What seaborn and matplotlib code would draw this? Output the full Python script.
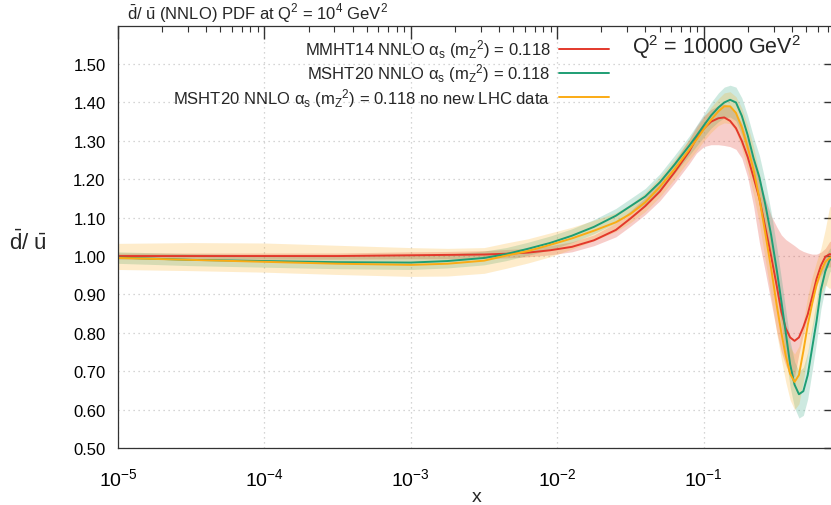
import numpy as np
import pandas as pd
import matplotlib
matplotlib.use("Agg")
import matplotlib.pyplot as plt
import seaborn as sns
from matplotlib.ticker import LogLocator, FixedLocator, FormatStrFormatter, NullFormatter

# ---------------- data ----------------
log10_x = [-5.0, -4.5, -4.0, -3.5, -3.0, -2.75, -2.5, -2.35, -2.2, -2.05,
           -1.9, -1.75, -1.6, -1.5, -1.4, -1.3, -1.2, -1.1, -1.05, -1.0,
           -0.95, -0.9, -0.86, -0.82, -0.78, -0.74, -0.70, -0.66, -0.62, -0.58,
           -0.54, -0.50, -0.47, -0.44, -0.41, -0.38, -0.35, -0.32, -0.29, -0.26,
           -0.23, -0.20, -0.17, -0.14, -0.11, -0.08]

mmht14_c = [1.000, 1.000, 1.000, 1.000, 1.002, 1.003, 1.004, 1.006, 1.009, 1.015,
            1.024, 1.041, 1.068, 1.098, 1.130, 1.168, 1.218, 1.272, 1.306, 1.332,
            1.350, 1.359, 1.361, 1.352, 1.333, 1.300, 1.258, 1.205, 1.150, 1.075,
            1.000, 0.919, 0.855, 0.812, 0.788, 0.779, 0.788, 0.815, 0.848, 0.893,
            0.940, 0.975, 0.998, 1.005, 1.002, 0.998]
mmht14_lo = [0.992, 0.992, 0.992, 0.992, 0.993, 0.993, 0.994, 0.995, 0.998, 1.003,
             1.011, 1.027, 1.050, 1.078, 1.108, 1.144, 1.190, 1.240, 1.268, 1.285,
             1.290, 1.290, 1.288, 1.285, 1.278, 1.255, 1.205, 1.130, 1.035, 0.960,
             0.880, 0.800, 0.750, 0.715, 0.690, 0.685, 0.745, 0.795, 0.840, 0.885,
             0.920, 0.950, 0.968, 0.972, 0.968, 0.965]
mmht14_hi = [1.008, 1.008, 1.008, 1.008, 1.011, 1.012, 1.014, 1.017, 1.020, 1.027,
             1.037, 1.055, 1.086, 1.118, 1.152, 1.192, 1.246, 1.304, 1.338, 1.365,
             1.382, 1.392, 1.396, 1.390, 1.372, 1.345, 1.300, 1.245, 1.200, 1.150,
             1.105, 1.075, 1.055, 1.043, 1.035, 1.027, 1.018, 1.012, 1.008, 1.005,
             1.005, 1.010, 1.020, 1.038, 1.042, 1.040]

msht20_c = [0.996, 0.990, 0.987, 0.984, 0.983, 0.987, 0.995, 1.005, 1.019, 1.034,
            1.053, 1.076, 1.105, 1.130, 1.155, 1.192, 1.238, 1.287, 1.313, 1.340,
            1.366, 1.387, 1.400, 1.407, 1.400, 1.365, 1.315, 1.255, 1.205, 1.135,
            1.055, 0.960, 0.882, 0.800, 0.718, 0.665, 0.640, 0.648, 0.690, 0.760,
            0.830, 0.912, 0.960, 0.990, 1.000, 1.000]
msht20_lo = [0.981, 0.975, 0.971, 0.967, 0.965, 0.969, 0.977, 0.988, 1.002, 1.016,
             1.035, 1.058, 1.086, 1.111, 1.135, 1.171, 1.215, 1.262, 1.286, 1.310,
             1.333, 1.350, 1.360, 1.362, 1.352, 1.315, 1.262, 1.200, 1.148, 1.075,
             0.995, 0.900, 0.822, 0.740, 0.658, 0.605, 0.578, 0.585, 0.628, 0.700,
             0.775, 0.862, 0.918, 0.958, 0.975, 0.975]
msht20_hi = [1.011, 1.006, 1.003, 1.001, 1.002, 1.005, 1.013, 1.022, 1.036, 1.052,
             1.071, 1.095, 1.124, 1.150, 1.176, 1.214, 1.262, 1.312, 1.340, 1.370,
             1.400, 1.425, 1.440, 1.445, 1.440, 1.412, 1.365, 1.310, 1.262, 1.195,
             1.115, 1.020, 0.942, 0.860, 0.778, 0.725, 0.700, 0.710, 0.750, 0.818,
             0.885, 0.960, 1.000, 1.020, 1.025, 1.025]

noLHC_c = [0.995, 0.990, 0.985, 0.980, 0.977, 0.980, 0.988, 1.001, 1.013, 1.029,
           1.046, 1.066, 1.088, 1.110, 1.140, 1.180, 1.226, 1.277, 1.303, 1.330,
           1.355, 1.377, 1.390, 1.390, 1.373, 1.335, 1.283, 1.225, 1.150, 1.060,
           0.968, 0.868, 0.800, 0.740, 0.693, 0.672, 0.690, 0.752, 0.820, 0.875,
           0.925, 0.960, 0.985, 0.995, 1.000, 1.000]
noLHC_lo = [0.965, 0.962, 0.958, 0.952, 0.947, 0.948, 0.955, 0.968, 0.982, 0.998,
            1.018, 1.040, 1.064, 1.087, 1.116, 1.154, 1.200, 1.250, 1.274, 1.300,
            1.322, 1.340, 1.347, 1.345, 1.325, 1.280, 1.225, 1.160, 1.085, 0.990,
            0.895, 0.795, 0.730, 0.672, 0.625, 0.600, 0.615, 0.675, 0.745, 0.805,
            0.860, 0.900, 0.925, 0.915, 0.930, 0.950]
noLHC_hi = [1.033, 1.035, 1.034, 1.028, 1.022, 1.020, 1.022, 1.034, 1.045, 1.060,
            1.075, 1.093, 1.113, 1.135, 1.165, 1.206, 1.252, 1.304, 1.332, 1.360,
            1.388, 1.410, 1.425, 1.428, 1.415, 1.385, 1.340, 1.285, 1.215, 1.130,
            1.040, 0.940, 0.870, 0.808, 0.762, 0.745, 0.765, 0.830, 0.895, 0.945,
            0.985, 1.020, 1.070, 1.130, 1.115, 1.060]

labels = ["MMHT14 NNLO α$_{\\mathrm{s}}$ (m$_{\\mathrm{Z}}$$^{2}$) = 0.118",
          "MSHT20 NNLO α$_{\\mathrm{s}}$ (m$_{\\mathrm{Z}}$$^{2}$) = 0.118",
          "MSHT20 NNLO α$_{\\mathrm{s}}$ (m$_{\\mathrm{Z}}$$^{2}$) = 0.118 no new LHC data"]
colors = ["#e3382b", "#1e9e74", "#fbab14"]
y_ticks = [0.50, 0.60, 0.70, 0.80, 0.90, 1.00, 1.10, 1.20, 1.30, 1.40, 1.50]

x_vals = 10.0 ** np.array(log10_x)

# ---------------- style ----------------
sns.set_theme(style="white")
plt.rcParams['font.family'] = ['Liberation Sans', 'DejaVu Sans']
plt.rcParams['mathtext.fontset'] = 'custom'
plt.rcParams['mathtext.rm'] = 'Liberation Sans'
plt.rcParams['mathtext.it'] = 'Liberation Sans:italic'
plt.rcParams['mathtext.bf'] = 'Liberation Sans:bold'
plt.rcParams['mathtext.sf'] = 'Liberation Sans'
plt.rcParams['axes.unicode_minus'] = False

fig = plt.figure(figsize=(8.31, 5.06), dpi=100)
ax = fig.add_axes([118 / 831, 57 / 506, 718 / 831, 422.3 / 506])

# uncertainty bands
bands = [(mmht14_lo, mmht14_hi), (msht20_lo, msht20_hi), (noLHC_lo, noLHC_hi)]
band_alpha = [0.25, 0.22, 0.22]
for (lo, hi), col, a in zip(bands, colors, band_alpha):
    ax.fill_between(x_vals, lo, hi, color=col, alpha=a, lw=0)

df = pd.concat([
    pd.DataFrame({"x": x_vals, "y": mmht14_c, "set": labels[0]}),
    pd.DataFrame({"x": x_vals, "y": msht20_c, "set": labels[1]}),
    pd.DataFrame({"x": x_vals, "y": noLHC_c, "set": labels[2]}),
], ignore_index=True)

sns.lineplot(data=df, x="x", y="y", hue="set", palette=dict(zip(labels, colors)),
             estimator=None, errorbar=None, linewidth=1.4, ax=ax, legend=True)

ax.set_xscale("log")
ax.set_xlim(1e-5, 0.80)
ax.set_ylim(0.5, 1.6)
ax.yaxis.set_major_locator(FixedLocator(y_ticks))
ax.yaxis.set_major_formatter(FormatStrFormatter("%.2f"))
ax.xaxis.set_major_locator(LogLocator(base=10, numticks=10))
ax.xaxis.set_minor_locator(LogLocator(base=10, subs=np.arange(2, 10), numticks=20))
ax.xaxis.set_minor_formatter(NullFormatter())

ax.grid(True, which="major", color="#c8c8c8", linestyle=(0, (1, 3)), linewidth=0.9)
ax.tick_params(which="both", direction="in", top=True, right=True, colors="#333333")
ax.tick_params(which="major", length=9, width=1.0)
ax.tick_params(which="minor", length=4.5, width=0.8)
ax.tick_params(axis="y", labelsize=12, pad=9, labelcolor="black")
ax.tick_params(axis="x", labelsize=14, pad=14, labelcolor="black")
for s in ax.spines.values():
    s.set_color("#333333")
    s.set_linewidth(0.9)

ax.set_xlabel("x", fontsize=14, labelpad=-1)
ax.set_ylabel(r"$\bar{\mathrm{d}}$/ $\bar{\mathrm{u}}$", fontsize=16, rotation=0)
ax.yaxis.set_label_coords(-0.125, 0.46)
ax.text(0.012, 1.004,
        r"$\bar{\mathrm{d}}$/ $\bar{\mathrm{u}}$ (NNLO) PDF at Q$^{2}$ = 10$^{4}$ GeV$^{2}$",
        transform=ax.transAxes, fontsize=12, ha="left", va="bottom")

handles, labs = ax.get_legend_handles_labels()
leg = ax.legend(handles, labs, loc="upper right", bbox_to_anchor=(0.70, 1.0),
                frameon=False, markerfirst=False, fontsize=12, handlelength=3.0,
                handletextpad=0.5, labelspacing=0.08, borderpad=0.2)

ax.text(0.716, 0.952, r"Q$^{2}$ = 10000 GeV$^{2}$", transform=ax.transAxes,
        fontsize=15.5, ha="left", va="center")

fig.savefig("out.png", dpi=100)
